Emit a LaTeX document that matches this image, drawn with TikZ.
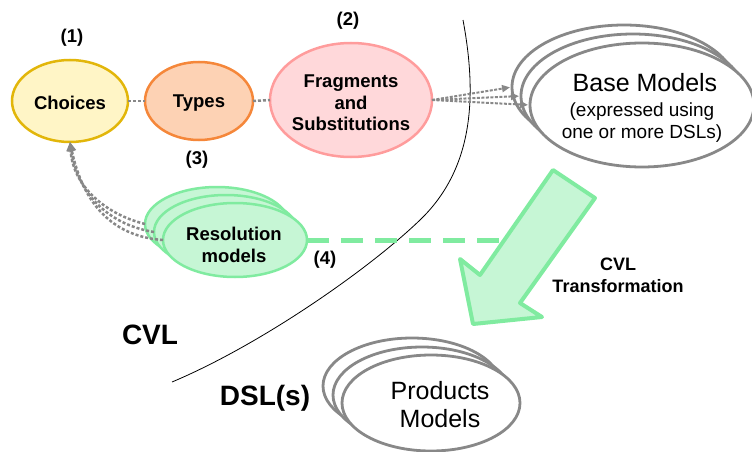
\documentclass[tikz,border=0pt]{standalone}
\usepackage{fontspec}
\setmainfont{Liberation Sans}
\usetikzlibrary{arrows.meta,shapes.geometric}

\definecolor{choicefill}{HTML}{FFF5C6}
\definecolor{choiceline}{HTML}{E2B60A}
\definecolor{typefill}{HTML}{FDD2B4}
\definecolor{typeline}{HTML}{F5873A}
\definecolor{fragfill}{HTML}{FFD8DA}
\definecolor{fragline}{HTML}{FF9C9C}
\definecolor{resfill}{HTML}{C6F6D5}
\definecolor{resline}{HTML}{80EBA0}
\definecolor{modelline}{HTML}{888888}
\definecolor{dotgray}{HTML}{888888}

\begin{document}
\begin{tikzpicture}[x=1pt,y=-1pt,
  every node/.style={inner sep=0pt, outer sep=0pt},
  oval/.style={ellipse, draw, line width=2.5pt},
  resoval/.style={oval, draw=resline, fill=resfill, minimum width=144pt, minimum height=74pt},
  baseoval/.style={ellipse, draw=modelline, fill=white, line width=2.8pt, minimum width=224pt, minimum height=124pt},
  prodoval/.style={ellipse, draw=modelline, fill=white, line width=2.8pt, minimum width=178pt, minimum height=96pt},
  boldlabel/.style={font=\bfseries\fontsize{18.5}{21.7}\selectfont, align=center},
  biglabel/.style={font=\bfseries\fontsize{28}{32}\selectfont},
  dotline/.style={draw=dotgray, line width=2.5pt, dash pattern=on 3pt off 2pt},
  dotarrow/.style={dotline, -{Triangle[length=9pt,width=8pt]}},
  thinarrow/.style={draw=dotgray, line width=2pt, dash pattern=on 3pt off 1.5pt, -{Triangle[length=8pt,width=7pt]}},
  greendash/.style={draw=resline, line width=5pt, dash pattern=on 22pt off 12pt},
  bigarrow/.style={draw=resline, fill=resfill, line width=4pt, line join=round}
]
\useasboundingbox (0,0) rectangle (752,452);
\clip (0,0) rectangle (752,452);

% boundary between the CVL side and the DSL side
\draw[black, line width=0.8pt] (463,20) .. controls (478,100) and (472,170) .. (420,220)
  .. controls (368,270) and (260,345) .. (172,382);

% CVL side: the three concepts
\node[oval, draw=choiceline, fill=choicefill, minimum width=116pt, minimum height=82pt] (choices) at (70,101) {};
\node[oval, draw=typeline, fill=typefill, minimum width=108pt, minimum height=78pt] (types) at (199,101) {};
\node[oval, draw=fragline, fill=fragfill, minimum width=162pt, minimum height=114pt] (frag) at (351,100) {};
\node[boldlabel] (choicestext) at (70,103) {Choices};
\node[boldlabel] (typestext) at (199,103) {Types};
\node[boldlabel] (fragtext) at (351,103) {Fragments\\and\\Substitutions};

\draw[dotline] (choices.east) -- (types.west);
\draw[dotline] (types.east) -- (frag.west);

\node[boldlabel] (n1) at (72,38) {(1)};
\node[boldlabel] (n2) at (348,21) {(2)};
\node[boldlabel] (n3) at (197,160) {(3)};
\node[boldlabel] (n4) at (325,260) {(4)};

% resolution models (stacked)
\node[resoval] (res1) at (217,224) {};
\node[resoval] (res2) at (226,232) {};
\node[resoval] (res3) at (235,240) {};
\node[boldlabel] (restext) at (234,245) {Resolution\\models};

\draw[dotarrow] (res1.west) .. controls (105,214) and (73,186) .. (choices.south);
\draw[dotarrow] (res2.west) .. controls (105,224) and (77,190) .. (choices.south);
\draw[dotarrow] (res3.west) .. controls (105,236) and (81,194) .. (choices.south);

% base models (stacked)
\node[baseoval] (base1) at (624,87) {};
\node[baseoval] (base2) at (633,96) {};
\node[baseoval] (base3) at (642,105) {};
\node[font=\fontsize{25}{28}\selectfont] (basetitle) at (645,83) {Base Models};
\node[font=\fontsize{19}{22}\selectfont, align=center] (basenote) at (642,123) {(expressed using\\one or more DSLs)};

\draw[thinarrow, shorten >=2pt] (frag.east) -- (base1.west);
\draw[thinarrow, shorten >=2pt] (frag.east) -- (base2.west);
\draw[thinarrow, shorten >=2pt] (frag.east) -- (base3.west);

% link from resolution models to the transformation
\coordinate (dashend) at (505,240);
\draw[greendash] (res3.east) -- (dashend);

% transformation arrow
\draw[bigarrow] (553,170) -- (480,275) -- (460,259) -- (473,324) -- (542,317) -- (520,303) -- (595,198) -- cycle;
\node[font=\bfseries\fontsize{18}{22}\selectfont, align=center] (cvltrans) at (618,275) {CVL\\Transformation};

% products models (stacked)
\node[prodoval] (prod1) at (412,386) {};
\node[prodoval] (prod2) at (422,395) {};
\node[prodoval] (prod3) at (431,403) {};
\node[font=\fontsize{25}{28}\selectfont, align=center] (prodtext) at (440,405) {Products\\Models};

% side labels
\node[biglabel] (cvl) at (150,335) {CVL};
\node[biglabel] (dsl) at (265,398) {DSL(s)};
\end{tikzpicture}
\end{document}
